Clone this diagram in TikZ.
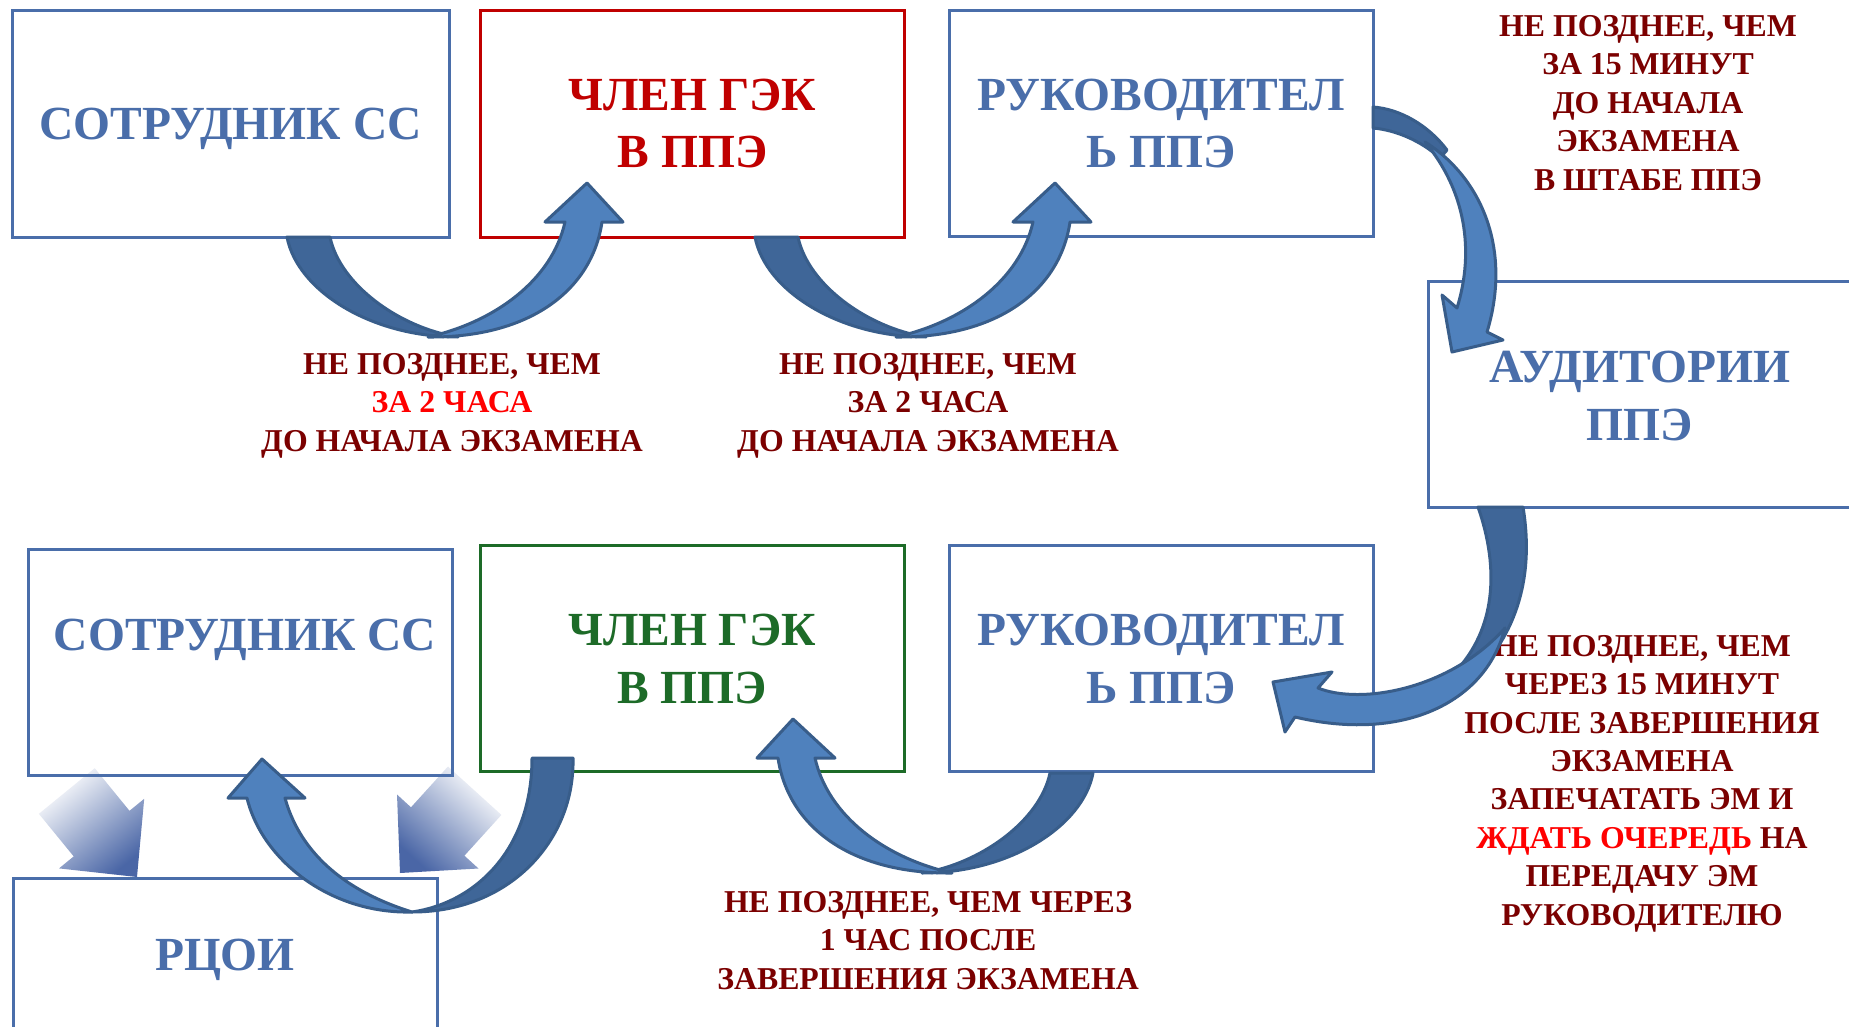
\documentclass[tikz,border=0pt]{standalone}
\usepackage{fontspec}
\setmainfont{Liberation Serif}
\definecolor{bxblue}{HTML}{4A6EAA}
\definecolor{bxred}{HTML}{C00000}
\definecolor{bxgreen}{HTML}{1D6B28}
\definecolor{lblred}{HTML}{7B0000}
\definecolor{hired}{HTML}{FF0000}
\definecolor{arrL}{HTML}{4F81BD}
\definecolor{arrD}{HTML}{3F6698}
\definecolor{arrO}{HTML}{385D8A}
\definecolor{gradB}{HTML}{4A66A6}
\newcommand\ribdarkA{\filldraw[arrdark] (-156,-99) .. controls (-146,-46) and (-73,1) .. (15,1) .. controls (-43,-8) and (-103,-51) .. (-113,-99) -- cycle;}
\newcommand\riblightA{\filldraw[arrlight] (-15,1) .. controls (52,-14) and (109,-56) .. (122,-114) -- (102,-114) -- (144,-153) -- (180,-114) -- (159,-114) .. controls (149,-46) and (87,2) .. (-15,1) -- cycle;}
\begin{document}
\begin{tikzpicture}[x=1pt,y=-1pt]
\tikzset{
  boxb/.style={draw=bxblue,line width=3pt,minimum width=424,minimum height=226,inner sep=0pt},
  boxr/.style={boxb,draw=bxred},
  boxg/.style={boxb,draw=bxgreen},
  btxt/.style={font=\fontsize{47.5}{58}\selectfont\bfseries,align=center,inner sep=0pt,anchor=base},
  lbl/.style={font=\fontsize{31.8}{38.4}\selectfont\bfseries,text=lblred,align=center,inner sep=0pt,anchor=base},
  arrlight/.style={fill=arrL,draw=arrO,line width=3pt,line join=round},
  arrdark/.style={fill=arrD,draw=arrO,line width=3pt,line join=round},
}
\useasboundingbox (0,0) rectangle (1849,1027);
\clip (0,0) rectangle (1849,1027);
\fill[white] (0,0) rectangle (1849,1027);
% gradient arrows
\shade[top color=white,bottom color=gradB,shading angle=39.3]
  (94.7,768.2) -- (129.5,810.8) -- (144.2,798.8) -- (137,877) -- (59,868.4) -- (73.7,856.4) -- (38.9,813.8) -- cycle;
\shade[top color=white,bottom color=gradB,shading angle=-42.2]
  (448,766.5) -- (411,807.3) -- (397,794.5) -- (400,873) -- (478.5,868.5) -- (464.4,855.7) -- (501.4,814.9) -- cycle;
% boxes
\node[boxb,minimum width=437] (sc1) at (230.5,124) {};
\node[boxr] (gek1) at (692.5,124) {};
\node[boxb] (ruk1) at (1161,123.5) {};
\node[boxb] (aud) at (1640,394) {};
\node[boxb] (ruk2) at (1161,658) {};
\node[boxg] (gek2) at (692,658) {};
\node[boxb] (sc2) at (240,662.5) {};
\node[boxb] (rcoi) at (225,991) {};
% box texts (base = baseline of last line)
\node[btxt,text=bxblue] (t1) at (230.5,140) {СОТРУДНИК СС};
\node[btxt,text=bxred] (t2) at (692.5,168) {ЧЛЕН ГЭК\\В ППЭ};
\node[btxt,text=bxblue] (t3) at (1161,168) {РУКОВОДИТЕЛ\\Ь ППЭ};
\node[btxt,text=bxblue] (t4) at (1640,440) {АУДИТОРИИ\\ППЭ};
\node[btxt,text=bxblue] (t5) at (1161,703) {РУКОВОДИТЕЛ\\Ь ППЭ};
\node[btxt,text=bxgreen] (t6) at (692,703) {ЧЛЕН ГЭК\\В ППЭ};
\node[btxt,text=bxblue] (t7) at (245,650) {СОТРУДНИК СС};
\node[btxt,text=bxblue] (t8) at (225,970) {РЦОИ};
% labels
\node[lbl] (l1) at (452,451) {НЕ ПОЗДНЕЕ, ЧЕМ\\\textcolor{hired}{ЗА 2 ЧАСА}\\ДО НАЧАЛА ЭКЗАМЕНА};
\node[lbl] (l2) at (928,451) {НЕ ПОЗДНЕЕ, ЧЕМ\\ЗА 2 ЧАСА\\ДО НАЧАЛА ЭКЗАМЕНА};
\node[lbl] (l3) at (1648,190) {НЕ ПОЗДНЕЕ, ЧЕМ\\ЗА 15 МИНУТ\\ДО НАЧАЛА\\ЭКЗАМЕНА\\В ШТАБЕ ППЭ};
\node[lbl] (l4) at (1642,925) {НЕ ПОЗДНЕЕ, ЧЕМ\\ЧЕРЕЗ 15 МИНУТ\\ПОСЛЕ ЗАВЕРШЕНИЯ\\ЭКЗАМЕНА\\ЗАПЕЧАТАТЬ ЭМ И\\\textcolor{hired}{ЖДАТЬ ОЧЕРЕДЬ} НА\\ПЕРЕДАЧУ ЭМ\\РУКОВОДИТЕЛЮ};
\node[lbl] (l5) at (928,989) {НЕ ПОЗДНЕЕ, ЧЕМ ЧЕРЕЗ\\1 ЧАС ПОСЛЕ\\ЗАВЕРШЕНИЯ ЭКЗАМЕНА};
% curved arrows A, B, E
\begin{scope}[shift={(443,336)}]\ribdarkA\riblightA\end{scope}
\begin{scope}[shift={(911,336)}]\ribdarkA\riblightA\end{scope}
\begin{scope}[shift={(937,872)},xscale=-1]\ribdarkA\riblightA\end{scope}
% arrow F
\filldraw[arrdark] (532,758) -- (573,758) .. controls (575,840) and (510,912) .. (412,912) .. controls (475,903) and (532,850) .. (532,758) -- cycle;
\filldraw[arrlight] (412,912) .. controls (330,914) and (262,860) .. (247,798) -- (228,798) -- (262,759) -- (305,798) -- (285,798) .. controls (298,845) and (335,888) .. (412,912) -- cycle;
% arrow C
\filldraw[arrdark] (1373,107) .. controls (1400,109) and (1428,125) .. (1447,150) -- (1440,158) .. controls (1420,140) and (1395,130) .. (1373,128) -- cycle;
\filldraw[arrlight] (1425,142) .. controls (1482,178) and (1512,250) .. (1487,332) -- (1503,340) -- (1452,352) -- (1442,295) -- (1457,308) .. controls (1475,250) and (1465,190) .. (1425,142) -- cycle;
% arrow D
\filldraw[arrdark] (1478,507) -- (1523,507) .. controls (1535,580) and (1515,640) .. (1465,685) -- (1455,672) .. controls (1495,630) and (1500,570) .. (1478,507) -- cycle;
\filldraw[arrlight] (1505,628) .. controls (1485,705) and (1400,742) .. (1295,717) -- (1285,732) -- (1273,682) -- (1332,672) -- (1318,688) .. controls (1360,705) and (1450,690) .. (1505,628) -- cycle;
\end{tikzpicture}
\end{document}
